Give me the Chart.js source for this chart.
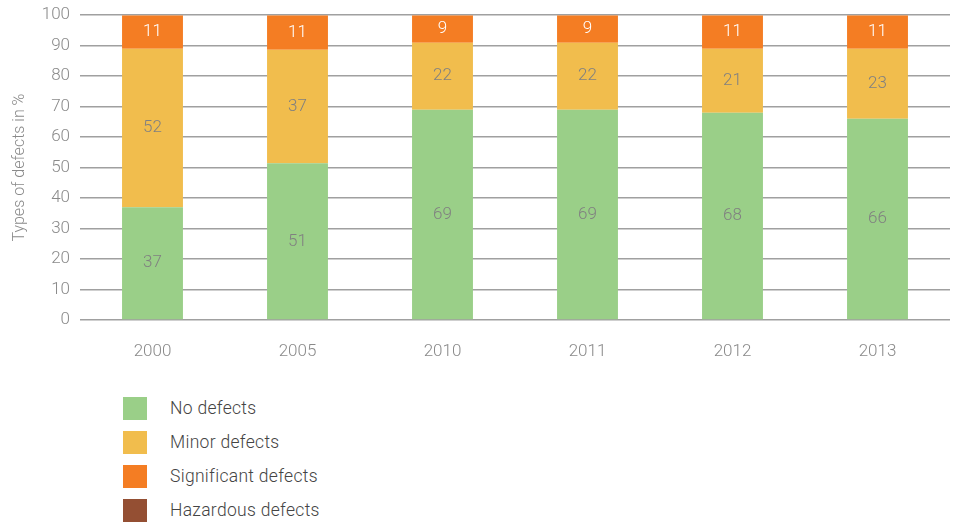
<!DOCTYPE html>
<html lang="en">
<head>
    <meta charset="UTF-8">
    <title>Types of defects</title>
    <script src="https://cdn.jsdelivr.net/npm/chart.js"></script>
    <style>
        body { margin: 0; background: #fff; font-family: "Roboto", sans-serif; overflow: hidden; }
        #wrap { position: relative; width: 961px; height: 522px; overflow: hidden; }
        #chartBox { position: absolute; left: 0; top: -5px; width: 961px; height: 375px; }
        #legend { position: absolute; left: 123px; top: 391px; }
        .item { display: flex; align-items: center; height: 34px; }
        .swatch { width: 24px; height: 23px; margin-right: 23px; }
        .label { font-size: 17.5px; color: #444; font-weight: 300; letter-spacing: 0.3px; }
    </style>
</head>
<body>
<div id="wrap">
    <div id="chartBox"><canvas id="defectsChart"></canvas></div>
    <div id="legend"></div>
</div>

<script>
    // Data (2005 shown rounded, bar reaches 100)
    const years = ['2000', '2005', '2010', '2011', '2012', '2013'];
    const noDefects = [37, 51.4, 69, 69, 68, 66];
    const minorDefects = [52, 37.3, 22, 22, 21, 23];
    const significantDefects = [11, 11.3, 9, 9, 11, 11];
    const hazardousDefects = [0, 0, 0, 0, 0, 0];

    const seriesNames = ['No defects', 'Minor defects', 'Significant defects', 'Hazardous defects'];
    const seriesColors = ['#9acf88', '#f1bd4d', '#f47d23', '#944f33'];
    const labelColors = ['#808080', '#808080', '#ffffff', '#ffffff'];

    // draws the value in the middle of each bar segment
    const valueLabels = {
        id: 'valueLabels',
        afterDatasetsDraw(chart) {
            const ctx = chart.ctx;
            ctx.save();
            ctx.font = '300 17px Roboto';
            ctx.textAlign = 'center';
            ctx.textBaseline = 'middle';
            chart.data.datasets.forEach((ds, i) => {
                const meta = chart.getDatasetMeta(i);
                meta.data.forEach((bar, j) => {
                    const v = ds.data[j];
                    if (!v) return;
                    ctx.fillStyle = labelColors[i];
                    ctx.fillText(Math.round(v), bar.x, (bar.y + bar.base) / 2);
                });
            });
            ctx.restore();
        }
    };

    const ctx = document.getElementById('defectsChart').getContext('2d');
    const chart = new Chart(ctx, {
        type: 'bar',
        data: {
            labels: years,
            datasets: [noDefects, minorDefects, significantDefects, hazardousDefects].map((d, i) => ({
                label: seriesNames[i],
                data: d,
                backgroundColor: seriesColors[i],
                borderWidth: 0,
                categoryPercentage: 1,
                barPercentage: 0.42
            }))
        },
        options: {
            responsive: true,
            maintainAspectRatio: false,
            animation: false,
            layout: { padding: { top: 5, right: 11, left: 0, bottom: 0 } },
            plugins: {
                legend: { display: false },
                tooltip: { enabled: false }
            },
            scales: {
                x: {
                    stacked: true,
                    grid: { display: false },
                    border: { display: false },
                    ticks: { color: '#8a8a8a', font: { family: 'Roboto', size: 17, weight: '300' }, padding: 14 },
                    afterFit: s => { s.height = 50; }
                },
                y: {
                    stacked: true,
                    min: 0,
                    max: 100,
                    ticks: { stepSize: 10, color: '#8a8a8a', font: { family: 'Roboto', size: 17, weight: '300' }, padding: 10 },
                    grid: { color: '#a0a0a0', lineWidth: 1.5, drawTicks: false },
                    border: { display: false },
                    title: {
                        display: true,
                        text: 'Types of defects in %',
                        color: '#8a8a8a',
                        font: { family: 'Roboto', size: 16, weight: '300' },
                        padding: { top: 10, bottom: 0 }
                    },
                    afterFit: s => { s.width = 80; }
                }
            }
        },
        plugins: [valueLabels]
    });

    // legend built from the datasets
    const legend = document.getElementById('legend');
    chart.data.datasets.forEach(ds => {
        const row = document.createElement('div');
        row.className = 'item';
        row.innerHTML = '<div class="swatch" style="background:' + ds.backgroundColor + '"></div><span class="label">' + ds.label + '</span>';
        legend.appendChild(row);
    });
</script>
</body>
</html>
